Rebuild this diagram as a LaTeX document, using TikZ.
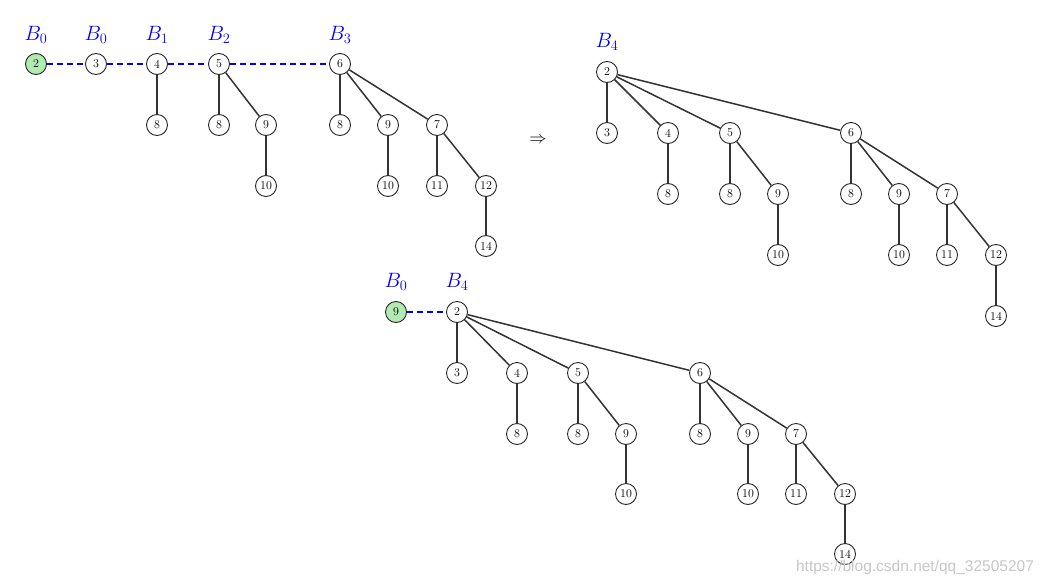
\documentclass[tikz,border=0pt]{standalone}
\usepackage{fontspec}
\newfontfamily\wmfont{Liberation Sans}
\definecolor{lgreen}{RGB}{178,235,178}
\begin{document}
\begin{tikzpicture}[x=1pt,y=-1pt,
  n/.style={circle,draw=black!85,line width=0.9pt,fill=white,minimum size=21pt,inner sep=0pt,font=\fontsize{12}{12}\selectfont},
  gn/.style={n,fill=lgreen},
  e/.style={line width=1.5pt,draw=black!80},
  dl/.style={line width=1.4pt,draw=blue,dash pattern=on 6pt off 4pt},
  bl/.style={text=blue,inner sep=0pt,font=\fontsize{20}{20}\selectfont}]
\useasboundingbox (0,0) rectangle (1046,586);
% ---------- top-left ----------
\node[gn] (a2) at (36,64) {2};
\node[n] (a3) at (96,64) {3};
\node[n] (a4) at (157,64) {4};
\node[n] (a5) at (219,64) {5};
\node[n] (a6) at (340,64) {6};
\node[bl] (la2) at (36,35) {$B_0$};
\node[bl] (la3) at (96,35) {$B_0$};
\node[bl] (la4) at (157,35) {$B_1$};
\node[bl] (la5) at (219,35) {$B_2$};
\node[bl] (la6) at (340,35) {$B_3$};
\node[n] (a48) at (157,125) {8};
\node[n] (a58) at (219,125) {8};
\node[n] (a59) at (266,125) {9};
\node[n] (a510) at (266,186) {10};
\node[n] (a68) at (340,125) {8};
\node[n] (a69) at (388,125) {9};
\node[n] (a67) at (437,125) {7};
\node[n] (a610) at (388,186) {10};
\node[n] (a611) at (437,186) {11};
\node[n] (a612) at (486,186) {12};
\node[n] (a614) at (486,246) {14};
\draw[dl] (a2) -- (a3);
\draw[dl] (a3) -- (a4);
\draw[dl] (a4) -- (a5);
\draw[dl] (a5) -- (a6);
\draw[e] (a4) -- (a48);
\draw[e] (a5) -- (a58);
\draw[e] (a5) -- (a59);
\draw[e] (a59) -- (a510);
\draw[e] (a6) -- (a68);
\draw[e] (a6) -- (a69);
\draw[e] (a6) -- (a67);
\draw[e] (a69) -- (a610);
\draw[e] (a67) -- (a611);
\draw[e] (a67) -- (a612);
\draw[e] (a612) -- (a614);
% ---------- arrow ----------
\node[font=\fontsize{18}{18}\selectfont] (arr) at (538,140) {$\Rightarrow$};
% ---------- right tree ----------
\node[bl] (lr2) at (607,42) {$B_4$};
\node[n] (r2) at (607,72) {2};
\node[n] (r3) at (607,133) {3};
\node[n] (r4) at (668,133) {4};
\node[n] (r5) at (730,133) {5};
\node[n] (r6) at (851,133) {6};
\node[n] (r48) at (668,194) {8};
\node[n] (r58) at (730,194) {8};
\node[n] (r59) at (778,194) {9};
\node[n] (r510) at (778,255) {10};
\node[n] (r68) at (851,194) {8};
\node[n] (r69) at (899,194) {9};
\node[n] (r67) at (947,194) {7};
\node[n] (r610) at (899,255) {10};
\node[n] (r611) at (947,255) {11};
\node[n] (r612) at (996,255) {12};
\node[n] (r614) at (996,316) {14};
\draw[e] (r2) -- (r3);
\draw[e] (r2) -- (r4);
\draw[e] (r2) -- (r5);
\draw[e] (r2) -- (r6);
\draw[e] (r4) -- (r48);
\draw[e] (r5) -- (r58);
\draw[e] (r5) -- (r59);
\draw[e] (r59) -- (r510);
\draw[e] (r6) -- (r68);
\draw[e] (r6) -- (r69);
\draw[e] (r6) -- (r67);
\draw[e] (r69) -- (r610);
\draw[e] (r67) -- (r611);
\draw[e] (r67) -- (r612);
\draw[e] (r612) -- (r614);
% ---------- bottom tree ----------
\node[bl] (lb9) at (396,282) {$B_0$};
\node[bl] (lb2) at (457,282) {$B_4$};
\node[gn] (b9) at (396,312) {9};
\node[n] (b2) at (457,312) {2};
\node[n] (b3) at (457,373) {3};
\node[n] (b4) at (517,373) {4};
\node[n] (b5) at (578,373) {5};
\node[n] (b6) at (700,373) {6};
\node[n] (b48) at (517,434) {8};
\node[n] (b58) at (578,434) {8};
\node[n] (b59) at (626,434) {9};
\node[n] (b510) at (626,494) {10};
\node[n] (b68) at (700,434) {8};
\node[n] (b69) at (748,434) {9};
\node[n] (b67) at (796,434) {7};
\node[n] (b610) at (748,494) {10};
\node[n] (b611) at (796,494) {11};
\node[n] (b612) at (845,494) {12};
\node[n] (b614) at (845,554) {14};
\draw[dl] (b9) -- (b2);
\draw[e] (b2) -- (b3);
\draw[e] (b2) -- (b4);
\draw[e] (b2) -- (b5);
\draw[e] (b2) -- (b6);
\draw[e] (b4) -- (b48);
\draw[e] (b5) -- (b58);
\draw[e] (b5) -- (b59);
\draw[e] (b59) -- (b510);
\draw[e] (b6) -- (b68);
\draw[e] (b6) -- (b69);
\draw[e] (b6) -- (b67);
\draw[e] (b69) -- (b610);
\draw[e] (b67) -- (b611);
\draw[e] (b67) -- (b612);
\draw[e] (b612) -- (b614);
% ---------- watermark ----------
\node[text=black!22,inner sep=0pt,font=\wmfont\fontsize{15.5}{15.5}\selectfont] (wm) at (915,567) {https://blog.csdn.net/qq\_32505207};
\end{tikzpicture}
\end{document}
